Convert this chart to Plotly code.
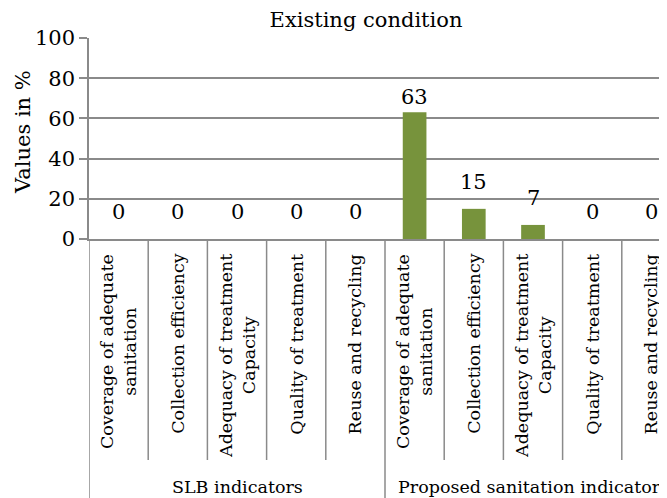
import plotly.graph_objects as go

categories = ["Coverage of adequate<br>sanitation", "Collection efficiency",
              "Adequacy of treatment<br>Capacity", "Quality of treatment",
              "Reuse and recycling"] * 2
groups = ["SLB indicators", "Proposed sanitation indicators"]
values = [0, 0, 0, 0, 0, 63, 15, 7, 0, 0]
label_shift = [13, 13, 13, 13, 13, 1, 13, 13, 13, 13]
y_ticks = [0, 20, 40, 60, 80, 100]

FONT = "DejaVu Serif"
GRID = "#8a8a8a"
BAR = "#77933C"

# page body has an 8px margin; layout numbers below are page pixels
OFF = 8
W, H = 667 - OFF, 498 - OFF
PLOT_LEFT, PLOT_TOP, PLOT_BOTTOM = 89, 38, 239
L = PLOT_LEFT - OFF
T = PLOT_TOP - OFF
B = H - (PLOT_BOTTOM - OFF)
PW = W - L
PH = PLOT_BOTTOM - PLOT_TOP
cat_w = 59.2


def py(pix):
    return (PLOT_BOTTOM - pix) / PH


def px(pix):
    return (pix - PLOT_LEFT) / PW


xs = list(range(len(values)))
fig = go.Figure(go.Bar(x=xs, y=values, marker_color=BAR, width=0.4,
                       marker_line_width=0, hoverinfo="skip"))

for i, v in enumerate(values):
    fig.add_annotation(x=i, y=v, xref="x", yref="y", text=str(v), showarrow=False,
                       yanchor="bottom", yshift=label_shift[i],
                       font=dict(family=FONT, size=21, color="black"))

for i, c in enumerate(categories):
    fig.add_annotation(x=i, y=py(252), xref="x", yref="paper", text=c, showarrow=False,
                       textangle=-90, yanchor="top", xanchor="center", align="center",
                       font=dict(family=FONT, size=17.5, color="black"))

n_per = len(categories) // len(groups)
for g, name in enumerate(groups):
    fig.add_annotation(x=g * n_per + (n_per - 1) / 2, y=py(487), xref="x", yref="paper",
                       text=name, showarrow=False, yanchor="middle", xanchor="center",
                       font=dict(family=FONT, size=17.5, color="black"))

for k in range(len(values)):
    bottom = py(498) if k % n_per == 0 else py(460)
    fig.add_shape(type="line", xref="x", yref="paper", x0=k - 0.5, x1=k - 0.5,
                  y0=0, y1=bottom, line=dict(color=GRID, width=1.5))

fig.add_annotation(x=px(23), y=py(132), xref="paper", yref="paper",
                   text="Values in %", showarrow=False, textangle=-90,
                   xanchor="center", yanchor="middle",
                   font=dict(family=FONT, size=21, color="black"))

fig.update_layout(
    width=W, height=H,
    margin=dict(l=L, r=0, t=T, b=B),
    paper_bgcolor="white", plot_bgcolor="white",
    showlegend=False,
    title=dict(text="Existing condition", x=(366 - OFF) / W, xref="container", xanchor="center",
               y=1 - (20 - OFF) / H, yref="container", yanchor="middle",
               font=dict(family=FONT, size=21, color="black")),
    xaxis=dict(range=[-0.5, -0.5 + PW / cat_w], showticklabels=False, ticks="",
               showgrid=False, zeroline=False, showline=True, linecolor=GRID, linewidth=1.5,
               fixedrange=True),
    yaxis=dict(range=[0, 100], tickvals=y_ticks, showgrid=True, gridcolor=GRID, gridwidth=1.5,
               zeroline=False, showline=True, linecolor=GRID, linewidth=1.5,
               ticks="outside", ticklen=8, tickcolor=GRID, tickwidth=1.5,
               tickfont=dict(family=FONT, size=21, color="black"), fixedrange=True),
)

fig.write_html("out.html")
